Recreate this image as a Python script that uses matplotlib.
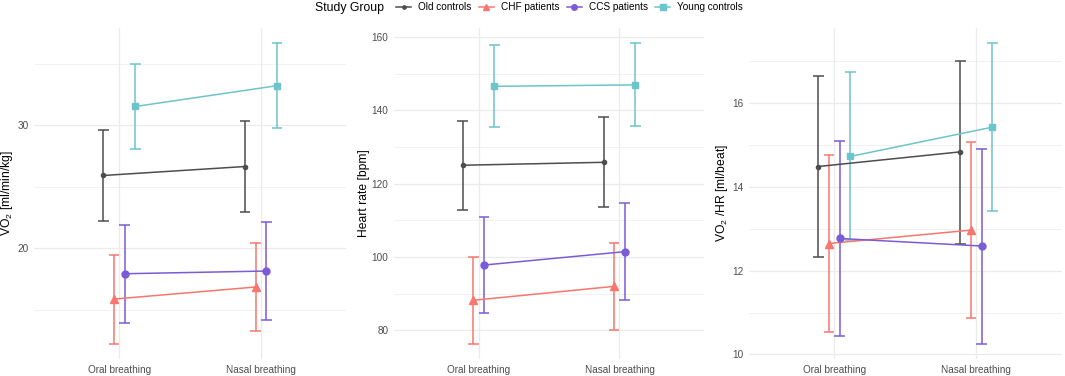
import matplotlib
matplotlib.use("Agg")
import matplotlib.pyplot as plt
from matplotlib.lines import Line2D
from matplotlib.ticker import MultipleLocator
import numpy as np

plt.rcParams['font.family'] = ['Liberation Sans', 'DejaVu Sans']
plt.rcParams['mathtext.fontset'] = 'custom'
plt.rcParams['mathtext.rm'] = 'Liberation Sans'
plt.rcParams['mathtext.it'] = 'Liberation Sans:italic'
plt.rcParams['mathtext.default'] = 'regular'

# ---- data ----
conditions = ["Oral breathing", "Nasal breathing"]
groups = ["Old controls", "CHF patients", "CCS patients", "Young controls"]
colors = ["#4D4D4D", "#F8766D", "#7B5CD6", "#6CC5CA"]
markers = ["o", "^", "o", "s"]
msizes = [3.0, 5.5, 5.0, 4.8]

vo2_mean = {"Old controls": [25.9, 26.63], "CHF patients": [15.85, 16.83],
            "CCS patients": [17.91, 18.13], "Young controls": [31.51, 33.2]}
vo2_lo = {"Old controls": [22.22, 22.9], "CHF patients": [12.2, 13.22],
          "CCS patients": [13.9, 14.11], "Young controls": [28.05, 29.76]}
vo2_hi = {"Old controls": [29.62, 30.33], "CHF patients": [19.4, 20.43],
          "CCS patients": [21.87, 22.11], "Young controls": [34.96, 36.67]}

hr_mean = {"Old controls": [125.0, 125.8], "CHF patients": [88.2, 92.0],
           "CCS patients": [97.8, 101.45], "Young controls": [146.5, 146.9]}
hr_lo = {"Old controls": [112.7, 113.5], "CHF patients": [76.3, 80.1],
         "CCS patients": [84.7, 88.35], "Young controls": [135.35, 135.6]}
hr_hi = {"Old controls": [137.1, 138.1], "CHF patients": [100.1, 103.8],
         "CCS patients": [111.0, 114.6], "Young controls": [157.9, 158.3]}

o2p_mean = {"Old controls": [14.49, 14.84], "CHF patients": [12.65, 12.97],
            "CCS patients": [12.77, 12.59], "Young controls": [14.73, 15.43]}
o2p_lo = {"Old controls": [12.32, 12.65], "CHF patients": [10.54, 10.86],
          "CCS patients": [10.43, 10.25], "Young controls": [12.73, 13.42]}
o2p_hi = {"Old controls": [16.65, 17.02], "CHF patients": [14.77, 15.08],
          "CCS patients": [15.10, 14.91], "Young controls": [16.75, 17.44]}

ylabels = [r"VO$_2$ [ml/min/kg]", "Heart rate [bpm]", r"VO$_2$ /HR [ml/beat]"]
panels = [(vo2_mean, vo2_lo, vo2_hi, 10, 5),
          (hr_mean, hr_lo, hr_hi, 20, 10),
          (o2p_mean, o2p_lo, o2p_hi, 2, 1)]

# ---- layout (pixels) ----
W, H = 1065, 376
fig = plt.figure(figsize=(W / 100, H / 100), dpi=100)
fig.patch.set_facecolor("white")
ax_px = [(34.3, 346.0), (394.0, 704.0), (749.0, 1061.5)]
ylab_x = [7, 364, 722]
top_px, bot_px = 28, 359

dodge = 0.3
n = len(groups)
offsets = [(-dodge / 2 + dodge / n * (i + 0.5)) for i in range(n)]
cap_half = dodge / n / 2

for p, ((mean, lo, hi, major, minor), (l, r)) in enumerate(zip(panels, ax_px)):
    ax = fig.add_axes([l / W, 1 - bot_px / H, (r - l) / W, (bot_px - top_px) / H])
    ax.set_facecolor("white")
    for s in ax.spines.values():
        s.set_visible(False)
    x = np.arange(1, len(conditions) + 1)
    allv = []
    for i, g in enumerate(groups):
        xs = x + offsets[i]
        m = np.array(mean[g]); lw_ = np.array(lo[g]); hw = np.array(hi[g])
        allv += list(lw_) + list(hw)
        c = colors[i]
        ax.vlines(xs, lw_, hw, color=c, lw=1.1, zorder=3)
        ax.hlines(lw_, xs - cap_half, xs + cap_half, color=c, lw=1.1, zorder=3)
        ax.hlines(hw, xs - cap_half, xs + cap_half, color=c, lw=1.1, zorder=3)
        ax.plot(xs, m, color=c, lw=1.1, marker=markers[i], ms=msizes[i],
                zorder=4)
    vmin, vmax = min(allv), max(allv)
    pad = (vmax - vmin) * 0.05
    ax.set_ylim(vmin - pad, vmax + pad)
    ax.set_xlim(0.4, len(conditions) + 0.6)
    ax.set_xticks(x)
    ax.set_xticklabels(conditions)
    ax.yaxis.set_major_locator(MultipleLocator(major))
    ax.yaxis.set_minor_locator(MultipleLocator(minor))
    ax.grid(True, which="major", color="#EBEBEB", lw=0.9, zorder=0)
    ax.grid(True, which="minor", axis="y", color="#EBEBEB", lw=0.5, zorder=0)
    ax.tick_params(which="both", length=0, labelsize=7.2, colors="#4D4D4D",
                   pad=4)
    ax.set_axisbelow(True)
    fig.text(ylab_x[p] / W, 1 - (top_px + bot_px) / 2 / H, ylabels[p],
             rotation=90, ha="center", va="center", fontsize=8.7,
             color="black")

# ---- legend ----
handles = [Line2D([0], [0], color=colors[i], lw=1.1, marker=markers[i],
                  ms=msizes[i] * 0.8) for i in range(n)]
fig.text(315 / W, 1 - 7.5 / H, "Study Group", ha="left", va="center",
         fontsize=8.8, color="black")
leg = fig.legend(handles, groups, loc="center left", ncol=4,
                 bbox_to_anchor=(396 / W, 1 - 7.5 / H), frameon=False,
                 fontsize=7.2, handlelength=1.5, handletextpad=0.7,
                 columnspacing=0.75, borderpad=0, borderaxespad=0)

fig.savefig("out.png", dpi=100, facecolor="white")
